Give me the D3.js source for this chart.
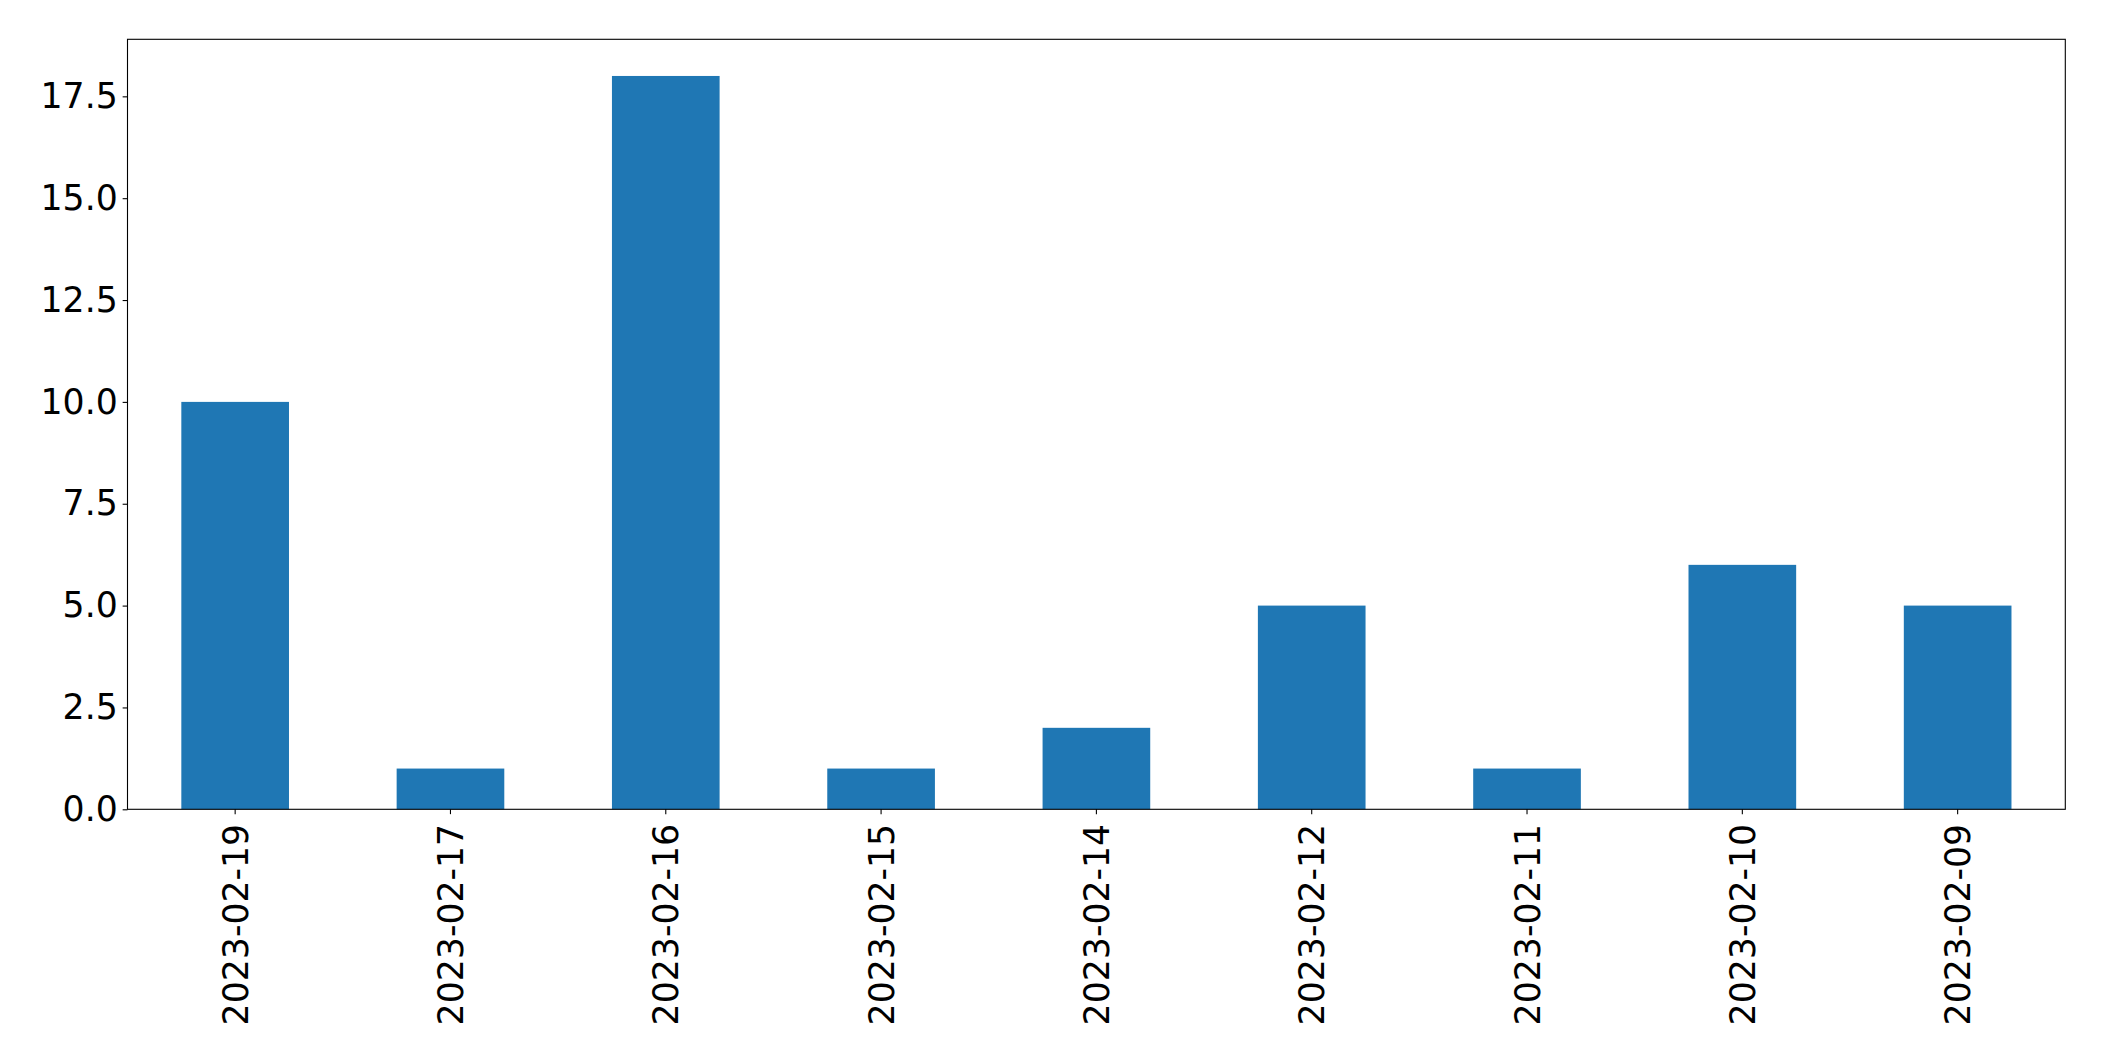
<!DOCTYPE html>
<html><head><meta charset="utf-8">
<script src="https://cdn.jsdelivr.net/npm/d3@7"></script>
<style>body{margin:0;background:#fff}svg{display:block}text{font-family:"DejaVu Sans",sans-serif}</style>
</head><body><svg id="c" width="2104" height="1061"></svg>
<script>
const categories = ["2023-02-19","2023-02-17","2023-02-16","2023-02-15","2023-02-14","2023-02-12","2023-02-11","2023-02-10","2023-02-09"];
const values = [10,1,18,1,2,5,1,6,5];
const yTicks = [0,2.5,5,7.5,10,12.5,15,17.5];

const svg = d3.select("#c");
const L=127.5, R=2065.3, T=39.3, B=809.3;
const fs = 34.7;
const x = d3.scaleBand().domain(categories).range([L,R]).paddingInner(0.5).paddingOuter(0.25);
const y = d3.scaleLinear().domain([0,18.9]).range([B,T]);

svg.append("g").selectAll("rect").data(values).join("rect")
  .attr("x",(d,i)=>x(categories[i])).attr("width",x.bandwidth())
  .attr("y",d=>y(d)).attr("height",d=>y(0)-y(d)).attr("fill","#1f77b4");

const yAxis = svg.append("g").attr("transform",`translate(${L},0)`)
  .call(d3.axisLeft(y).tickValues(yTicks).tickFormat(d3.format(".1f")).tickSize(4.86).tickPadding(4.86));
yAxis.select(".domain").remove();
yAxis.selectAll("line").attr("stroke","#000").attr("stroke-width",1.1);
yAxis.selectAll("text").attr("font-size",fs).attr("fill","#000").attr("font-family","DejaVu Sans");

const xAxis = svg.append("g").attr("transform",`translate(0,${B})`)
  .call(d3.axisBottom(x).tickSize(4.86).tickPadding(4.86));
xAxis.select(".domain").remove();
xAxis.selectAll("line").attr("stroke","#000").attr("stroke-width",1.1);
xAxis.selectAll("text").attr("font-size",fs).attr("fill","#000").attr("font-family","DejaVu Sans")
  .attr("transform","rotate(-90)").attr("text-anchor","end")
  .attr("x",-14.5).attr("y",0).attr("dy","0.36em");

svg.append("rect").attr("x",L).attr("y",T).attr("width",R-L).attr("height",B-T)
  .attr("fill","none").attr("stroke","#000").attr("stroke-width",1.1);
</script></body></html>
